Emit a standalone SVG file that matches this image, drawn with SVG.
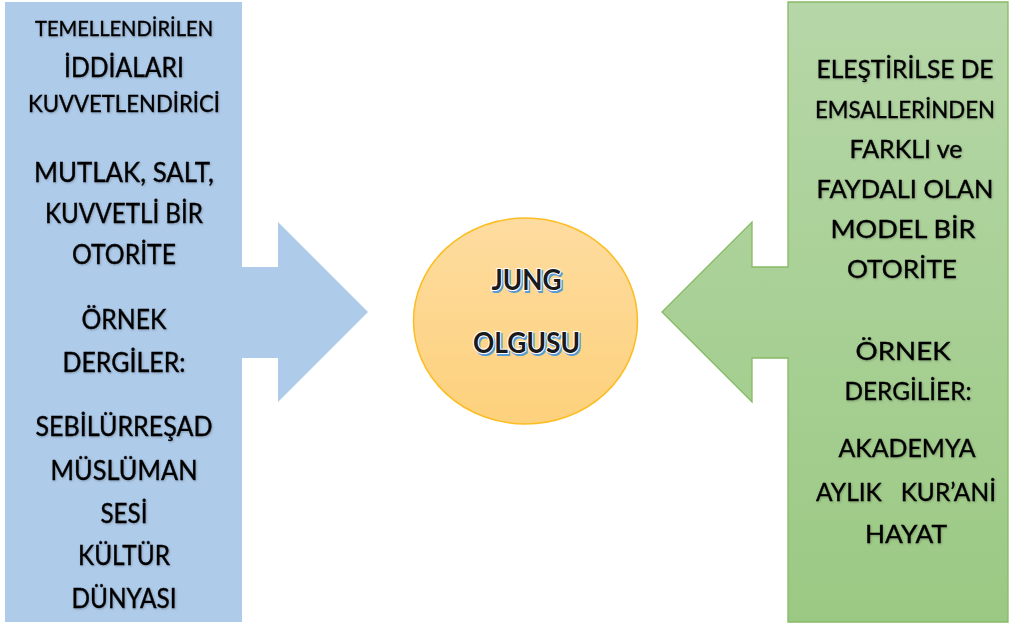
<svg xmlns="http://www.w3.org/2000/svg" width="1013" height="627" viewBox="0 0 1013 627">
  <defs>
    <linearGradient id="gGreen" x1="0" y1="0" x2="0" y2="1">
      <stop offset="0" stop-color="#b6d7a8"/>
      <stop offset="1" stop-color="#9bc983"/>
    </linearGradient>
    <linearGradient id="gOrange" x1="0" y1="0" x2="0" y2="1">
      <stop offset="0" stop-color="#fedca0"/>
      <stop offset="1" stop-color="#fdd17c"/>
    </linearGradient>
    <filter id="soft" x="-10%" y="-30%" width="120%" height="160%">
      <feDropShadow dx="0.8" dy="1" stdDeviation="0.8" flood-color="#000" flood-opacity="0.25"/>
    </filter>
    <style>
      .t { font-family: Lato, "Open Sans", "Liberation Sans", sans-serif; fill: #000; stroke: #000; stroke-width: 0.35; text-anchor: middle; }
      .l { font-size: 26px; }
      .r { font-size: 25px; }
      .txt { filter: url(#soft); }
      .c { font-family: Lato, "Open Sans", "Liberation Sans", sans-serif; font-weight: bold; font-size: 28px; text-anchor: middle; }
      .cs { fill: #5b9bd5; stroke: #5b9bd5; stroke-width: 2; }
      .cm { fill: #1a1a1a; stroke: #ffffff; stroke-width: 2.2; paint-order: stroke; }
    </style>
  </defs>

  <g id="left-callout">
    <polygon points="5,2 242,2 242,267 278,267 278,222 368,312 278,402 278,358 242,358 242,622 5,622" fill="#aecbea"/>
    <g class="txt">
      <text class="t" x="124" y="36" font-size="22" textLength="178" lengthAdjust="spacingAndGlyphs">TEMELLENDİRİLEN</text>
      <text class="t l" x="124" y="77" textLength="120" lengthAdjust="spacingAndGlyphs">İDDİALARI</text>
      <text class="t" x="124" y="112" font-size="24" textLength="192" lengthAdjust="spacingAndGlyphs">KUVVETLENDİRİCİ</text>
      <text class="t l" x="124" y="182" textLength="180" lengthAdjust="spacingAndGlyphs">MUTLAK, SALT,</text>
      <text class="t l" x="124" y="223" textLength="158" lengthAdjust="spacingAndGlyphs">KUVVETLİ BİR</text>
      <text class="t l" x="124" y="264" textLength="104" lengthAdjust="spacingAndGlyphs">OTORİTE</text>
      <text class="t l" x="124" y="329" textLength="85" lengthAdjust="spacingAndGlyphs">ÖRNEK</text>
      <text class="t l" x="124" y="372" textLength="123" lengthAdjust="spacingAndGlyphs">DERGİLER:</text>
      <text class="t l" x="124" y="436" textLength="177" lengthAdjust="spacingAndGlyphs">SEBİLÜRREŞAD</text>
      <text class="t l" x="124" y="480" textLength="147" lengthAdjust="spacingAndGlyphs">MÜSLÜMAN</text>
      <text class="t l" x="124" y="523" textLength="47" lengthAdjust="spacingAndGlyphs">SESİ</text>
      <text class="t l" x="124" y="565" textLength="92" lengthAdjust="spacingAndGlyphs">KÜLTÜR</text>
      <text class="t l" x="124" y="608" textLength="105" lengthAdjust="spacingAndGlyphs">DÜNYASI</text>
    </g>
  </g>

  <g id="right-callout">
    <polygon points="788,2 1008,2 1008,622 788,622 788,358 752,358 752,402 662,312 752,222 752,267 788,267" fill="url(#gGreen)" stroke="#86bb66" stroke-width="1.3"/>
    <g class="txt">
      <text class="t r" x="905" y="78" textLength="177" lengthAdjust="spacingAndGlyphs">ELEŞTİRİLSE DE</text>
      <text class="t" x="905" y="118" font-size="24" textLength="180" lengthAdjust="spacingAndGlyphs">EMSALLERİNDEN</text>
      <text class="t r" x="906" y="158" textLength="113" lengthAdjust="spacingAndGlyphs">FARKLI ve</text>
      <text class="t r" x="905" y="198" textLength="177" lengthAdjust="spacingAndGlyphs">FAYDALI OLAN</text>
      <text class="t r" x="903" y="238" textLength="145" lengthAdjust="spacingAndGlyphs">MODEL BİR</text>
      <text class="t r" x="902" y="278" textLength="110" lengthAdjust="spacingAndGlyphs">OTORİTE</text>
      <text class="t r" x="903" y="360" textLength="95" lengthAdjust="spacingAndGlyphs">ÖRNEK</text>
      <text class="t r" x="908" y="400" textLength="127" lengthAdjust="spacingAndGlyphs">DERGİLİER:</text>
      <text class="t r" x="907" y="457" textLength="137" lengthAdjust="spacingAndGlyphs">AKADEMYA</text>
      <text class="t r" x="906" y="501" textLength="180" lengthAdjust="spacingAndGlyphs" xml:space="preserve">AYLIK   KUR’ANİ</text>
      <text class="t r" x="906" y="543" textLength="82" lengthAdjust="spacingAndGlyphs">HAYAT</text>
    </g>
  </g>

  <g id="center-node">
    <ellipse cx="525.5" cy="321" rx="112" ry="103" fill="url(#gOrange)" stroke="#fbbd22" stroke-width="1.5"/>
    <text class="c cs" x="528" y="292" textLength="70" lengthAdjust="spacingAndGlyphs">JUNG</text>
    <text class="c cm" x="526.5" y="290" textLength="70" lengthAdjust="spacingAndGlyphs">JUNG</text>
    <text class="c cs" x="528" y="355" textLength="107" lengthAdjust="spacingAndGlyphs">OLGUSU</text>
    <text class="c cm" x="526.5" y="353" textLength="107" lengthAdjust="spacingAndGlyphs">OLGUSU</text>
  </g>

  <g id="connectors"/>
</svg>
